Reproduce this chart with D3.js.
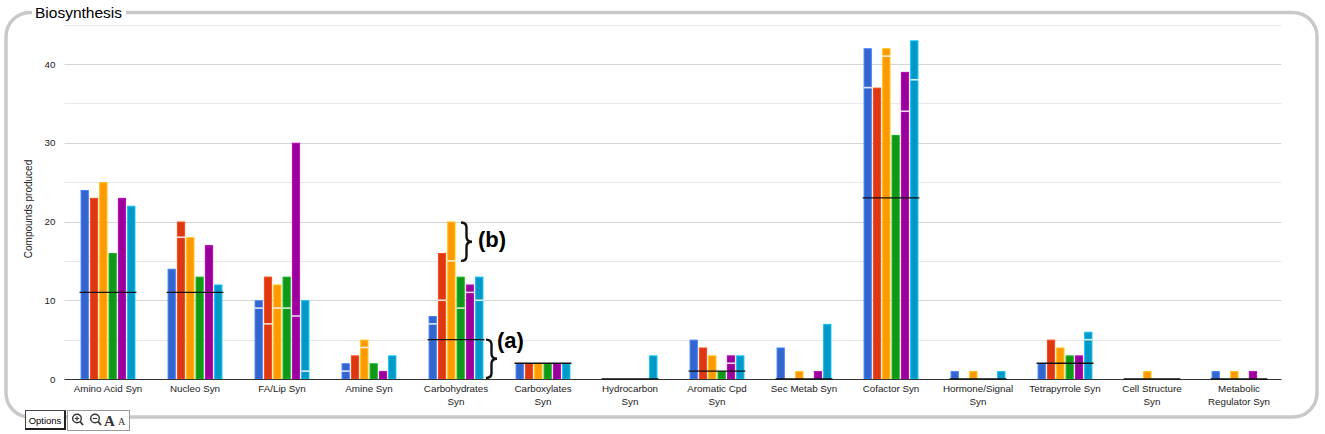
<!DOCTYPE html>
<html>
<head>
<meta charset="utf-8">
<script src="https://cdn.jsdelivr.net/npm/d3@7"></script>
<style>
  body { margin: 0; background: #fff; }
  svg { display: block; font-family: "Liberation Sans", Arial, sans-serif; }
</style>
</head>
<body>
<svg id="chart" width="1325" height="434"></svg>
<script>
// categories + series values (total height, and the white split mark inside a bar)
const categories = [
  ['Amino Acid Syn'], ['Nucleo Syn'], ['FA/Lip Syn'], ['Amine Syn'],
  ['Carbohydrates', 'Syn'], ['Carboxylates', 'Syn'], ['Hydrocarbon', 'Syn'],
  ['Aromatic Cpd', 'Syn'], ['Sec Metab Syn'], ['Cofactor Syn'],
  ['Hormone/Signal', 'Syn'], ['Tetrapyrrole Syn'], ['Cell Structure', 'Syn'],
  ['Metabolic', 'Regulator Syn']
];
const seriesNames = ['s1', 's2', 's3', 's4', 's5', 's6'];
const colors = ['#3366cc', '#dc3912', '#ff9900', '#109618', '#990099', '#0099c6'];

const s1 = [24, 14, 10, 2, 8, 2, 0, 5, 4, 42, 1, 2, 0, 1];
const s2 = [23, 20, 13, 3, 16, 2, 0, 4, 0, 37, 0, 5, 0, 0];
const s3 = [25, 18, 12, 5, 20, 2, 0, 3, 1, 42, 1, 4, 1, 1];
const s4 = [16, 13, 13, 2, 13, 2, 0, 1, 0, 31, 0, 3, 0, 0];
const s5 = [23, 17, 30, 1, 12, 2, 0, 3, 1, 39, 0, 3, 0, 1];
const s6 = [22, 12, 10, 3, 13, 2, 3, 3, 7, 43, 1, 6, 0, 0];

const split1 = [null, null, 9, 1, 7, null, null, null, null, 37, null, null, null, null];
const split2 = [null, 18, 7, null, 10, null, null, null, null, null, null, null, null, null];
const split3 = [null, null, 9, 4, 15, null, null, null, null, 41, null, null, null, null];
const split4 = [null, null, 9, null, 9, null, null, null, null, null, null, null, null, null];
const split5 = [null, null, 8, null, 11, null, null, 2, null, 34, null, null, null, null];
const split6 = [null, null, 1, null, 10, null, null, null, null, 38, null, 5, null, null];

const means = [11, 11, null, null, 5, 2, 0, 1, 0, 23, 0, 2, 0, 0];

const yTicks = [0, 10, 20, 30, 40];
const gridTicks = [0, 5, 10, 15, 20, 25, 30, 35, 40, 45];

const allValues = [s1, s2, s3, s4, s5, s6];
const allSplits = [split1, split2, split3, split4, split5, split6];

const svg = d3.select('#chart');

// frame
svg.append('rect')
  .attr('x', 6).attr('y', 12.5)
  .attr('width', 1311).attr('height', 404.5)
  .attr('rx', 24).attr('ry', 24)
  .attr('fill', 'none')
  .attr('stroke', '#c9c9c9')
  .attr('stroke-width', 3.5);

svg.append('rect')
  .attr('x', 32).attr('y', 2)
  .attr('width', 94).attr('height', 20)
  .attr('fill', '#fff');
svg.append('text')
  .attr('x', 35).attr('y', 18)
  .attr('font-size', 15.5)
  .attr('fill', '#000')
  .text('Biosynthesis');

const plotLeft = 64.5, plotRight = 1282.5, plotTop = 24, plotBottom = 379;

const x = d3.scaleBand()
  .domain(d3.range(categories.length))
  .range([plotLeft, plotRight])
  .paddingInner(0.37)
  .paddingOuter(0.185);

const xs = d3.scaleBand()
  .domain(seriesNames)
  .range([0, x.bandwidth()])
  .paddingInner(0.12);

const y = d3.scaleLinear()
  .domain([0, 40])
  .range([plotBottom, plotBottom - 315]);

// gridlines
svg.append('g')
  .selectAll('line')
  .data(gridTicks)
  .join('line')
  .attr('x1', plotLeft).attr('x2', plotRight - 1)
  .attr('y1', d => Math.round(y(d)) + 0.5)
  .attr('y2', d => Math.round(y(d)) + 0.5)
  .attr('stroke', d => d % 10 === 0 ? '#d6d6d6' : '#e8e8e8')
  .attr('stroke-width', 1);

// y axis labels
const yAxis = svg.append('g')
  .attr('transform', `translate(${plotLeft},0)`)
  .call(d3.axisLeft(y).tickValues(yTicks).tickSize(0).tickPadding(9));
yAxis.select('.domain').remove();
yAxis.selectAll('text')
  .attr('font-size', 9.8)
  .attr('fill', '#222')
  .attr('font-family', '"Liberation Sans", Arial, sans-serif');

svg.append('text')
  .attr('transform', 'translate(32,209) rotate(-90)')
  .attr('text-anchor', 'middle')
  .attr('font-size', 10)
  .attr('fill', '#222')
  .text('Compounds produced');

// bars
const barData = [];
categories.forEach((c, i) => {
  seriesNames.forEach((s, j) => {
    barData.push({ cat: i, s: s, j: j, v: allValues[j][i], split: allSplits[j][i] });
  });
});

const barG = svg.append('g');
barG.selectAll('rect')
  .data(barData.filter(d => d.v > 0))
  .join('rect')
  .attr('x', d => x(d.cat) + xs(d.s) + 0.5)
  .attr('y', d => y(d.v) + 0.5)
  .attr('width', xs.bandwidth() - 1)
  .attr('height', d => y(0) - y(d.v) - 0.5)
  .attr('fill', d => colors[d.j])
  .attr('stroke', d => d3.color(colors[d.j]).brighter(0.6))
  .attr('stroke-width', 1);

barG.selectAll('line.split')
  .data(barData.filter(d => d.split !== null && d.v > 0))
  .join('line')
  .attr('class', 'split')
  .attr('x1', d => x(d.cat) + xs(d.s))
  .attr('x2', d => x(d.cat) + xs(d.s) + xs.bandwidth())
  .attr('y1', d => y(d.split))
  .attr('y2', d => y(d.split))
  .attr('stroke', d => d3.interpolateRgb(colors[d.j], '#fff')(0.85))
  .attr('stroke-width', 1.6);

// baseline
svg.append('line')
  .attr('x1', plotLeft).attr('x2', plotRight - 1)
  .attr('y1', plotBottom + 0.5).attr('y2', plotBottom + 0.5)
  .attr('stroke', '#333')
  .attr('stroke-width', 1.2);

// mean lines
svg.append('g')
  .selectAll('line')
  .data(means.map((m, i) => ({ m: m, i: i })).filter(d => d.m !== null))
  .join('line')
  .attr('x1', d => x(d.i) - 1)
  .attr('x2', d => x(d.i) + x.bandwidth() + 1)
  .attr('y1', d => y(d.m))
  .attr('y2', d => y(d.m))
  .attr('stroke', '#111')
  .attr('stroke-width', 1.4);

// category labels
const labels = svg.append('g')
  .selectAll('text')
  .data(categories.map((c, i) => ({ c: c, i: i })))
  .join('text')
  .attr('x', d => x(d.i) + x.bandwidth() / 2)
  .attr('y', plotBottom + 13)
  .attr('text-anchor', 'middle')
  .attr('font-size', 9.8)
  .attr('fill', '#222');
labels.selectAll('tspan')
  .data(d => d.c.map(t => ({ t: t, x: x(d.i) + x.bandwidth() / 2 })))
  .join('tspan')
  .attr('x', d => d.x)
  .attr('dy', (d, k) => k === 0 ? 0 : 13)
  .text(d => d.t);

// annotations (a) and (b)
function brace(x0, y0, y1, w) {
  const mid = (y0 + y1) / 2, xm = x0 + w / 2, xt = x0 + w, r = 5;
  return `M${x0},${y0} Q${xm},${y0} ${xm},${y0 + r} L${xm},${mid - r}` +
         ` Q${xm},${mid} ${xt},${mid} Q${xm},${mid} ${xm},${mid + r}` +
         ` L${xm},${y1 - r} Q${xm},${y1} ${x0},${y1}`;
}
const ann = svg.append('g');
ann.append('path')
  .attr('d', brace(461, y(20) + 1, y(15), 11))
  .attr('fill', 'none').attr('stroke', '#111').attr('stroke-width', 2.4);
ann.append('text')
  .attr('x', 478).attr('y', 247)
  .attr('font-size', 22).attr('font-weight', 'bold')
  .text('(b)');
ann.append('path')
  .attr('d', brace(486, y(5), y(0) - 1, 11))
  .attr('fill', 'none').attr('stroke', '#111').attr('stroke-width', 2.4);
ann.append('text')
  .attr('x', 497).attr('y', 348)
  .attr('font-size', 22).attr('font-weight', 'bold')
  .text('(a)');

// options controls
const opt = svg.append('g');
opt.append('rect')
  .attr('x', 25.5).attr('y', 410.5).attr('width', 40).attr('height', 18)
  .attr('fill', '#fff').attr('stroke', '#444').attr('stroke-width', 1);
opt.append('line')
  .attr('x1', 65).attr('x2', 65).attr('y1', 411).attr('y2', 429)
  .attr('stroke', '#222').attr('stroke-width', 2);
opt.append('line')
  .attr('x1', 25).attr('x2', 66).attr('y1', 429).attr('y2', 429)
  .attr('stroke', '#222').attr('stroke-width', 2);
opt.append('text')
  .attr('x', 45).attr('y', 423.5)
  .attr('text-anchor', 'middle').attr('font-size', 9.5).text('Options');
opt.append('rect')
  .attr('x', 67.5).attr('y', 410.5).attr('width', 62).attr('height', 20)
  .attr('fill', '#fff').attr('stroke', '#999').attr('stroke-width', 1);
[[77, '+'], [95, '-']].forEach(([cx, s]) => {
  opt.append('circle').attr('cx', cx).attr('cy', 418.5).attr('r', 4.3)
    .attr('fill', 'none').attr('stroke', '#333').attr('stroke-width', 1.4);
  opt.append('line').attr('x1', cx + 3).attr('y1', 421.5).attr('x2', cx + 6).attr('y2', 425)
    .attr('stroke', '#333').attr('stroke-width', 1.8);
  opt.append('line').attr('x1', cx - 2.2).attr('x2', cx + 2.2).attr('y1', 418.5).attr('y2', 418.5)
    .attr('stroke', '#333').attr('stroke-width', 1.1);
  if (s === '+') {
    opt.append('line').attr('x1', cx).attr('x2', cx).attr('y1', 416.3).attr('y2', 420.7)
      .attr('stroke', '#333').attr('stroke-width', 1.1);
  }
});
opt.append('text').attr('x', 104).attr('y', 426)
  .attr('font-family', '"Liberation Serif", serif').attr('font-size', 15)
  .attr('font-weight', 'bold').attr('fill', '#333').text('A');
opt.append('text').attr('x', 118).attr('y', 425)
  .attr('font-family', '"Liberation Serif", serif').attr('font-size', 10)
  .attr('fill', '#333').text('A');
</script>
</body>
</html>
